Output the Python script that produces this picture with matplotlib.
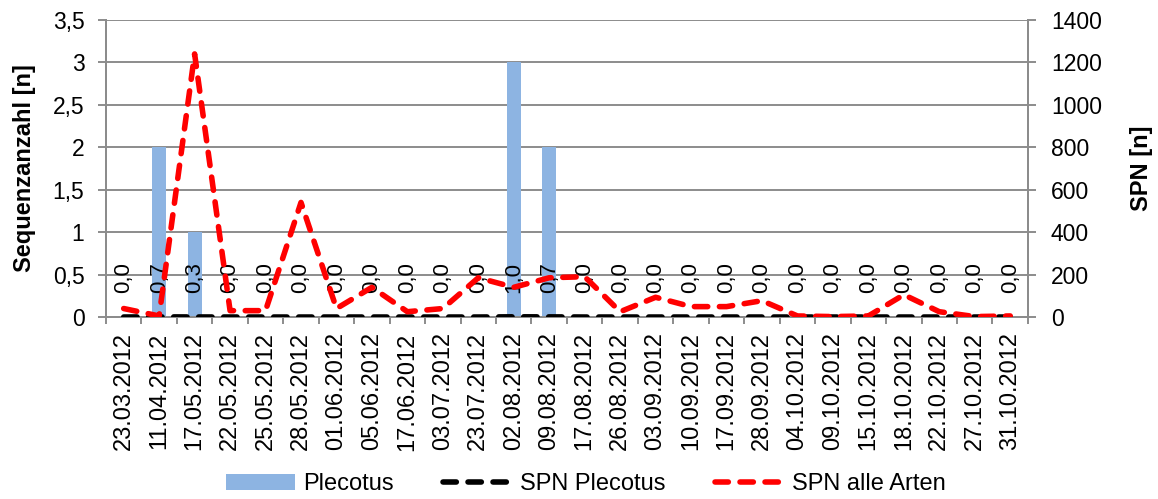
import numpy as np
import matplotlib
matplotlib.use("Agg")
from matplotlib import pyplot as plt
from matplotlib.ticker import FuncFormatter, FixedLocator

plt.rcParams['font.family'] = ['Liberation Sans', 'DejaVu Sans']

# dates of the recordings
dates = ["23.03.2012", "11.04.2012", "17.05.2012", "22.05.2012", "25.05.2012",
         "28.05.2012", "01.06.2012", "05.06.2012", "17.06.2012", "03.07.2012",
         "23.07.2012", "02.08.2012", "09.08.2012", "17.08.2012", "26.08.2012",
         "03.09.2012", "10.09.2012", "17.09.2012", "28.09.2012", "04.10.2012",
         "09.10.2012", "15.10.2012", "18.10.2012", "22.10.2012", "27.10.2012",
         "31.10.2012"]

# sequence counts Plecotus (left axis)
plecotus = [0, 2, 1, 0, 0, 0, 0, 0, 0, 0, 0, 3, 2, 0, 0, 0, 0, 0, 0, 0, 0, 0, 0, 0, 0, 0]

# SPN values (right axis)
spn_plecotus = [0.0, 0.7, 0.3, 0.0, 0.0, 0.0, 0.0, 0.0, 0.0, 0.0, 0.0, 1.0, 0.7,
                0.0, 0.0, 0.0, 0.0, 0.0, 0.0, 0.0, 0.0, 0.0, 0.0, 0.0, 0.0, 0.0]
spn_alle = [40, 5, 1240, 30, 30, 540, 40, 140, 25, 40, 185, 140, 185, 190, 25,
            93, 49, 49, 77, 5, 2, 5, 105, 25, 2, 5]

grid_col = "#8c8c8c"
x = np.arange(len(dates))

fig = plt.figure(figsize=(11.58, 4.99), dpi=100)
ax = fig.add_axes([0.0915, 0.3647, 0.8877 - 0.0915, 0.96 - 0.3647])
ax2 = ax.twinx()

# bars on left axis
ax.set_axisbelow(True)
ax.bar(x, plecotus, width=0.4, color="#8DB4E2", zorder=2, label="Plecotus")
ax.set_xlim(-0.5, len(dates) - 0.5)
ax.set_ylim(0, 3.5)
ax.set_yticks(np.arange(0, 3.51, 0.5))
ax.yaxis.set_major_formatter(FuncFormatter(lambda v, p: ("%g" % v).replace(".", ",")))
ax.grid(axis="y", color=grid_col, lw=1.4)

# lines on right axis
dash = (0, (2.4, 2.1))
l1, = ax2.plot(x, spn_plecotus, color="black", lw=4, ls=dash,
               dash_capstyle="round", label="SPN Plecotus", zorder=3)
l2, = ax2.plot(x, spn_alle, color="#ff0000", lw=4, ls=dash,
               dash_capstyle="round", label="SPN alle Arten", zorder=4)
ax2.set_ylim(0, 1400)
ax2.set_yticks(np.arange(0, 1401, 200))

# data labels of SPN Plecotus
for i, v in enumerate(spn_plecotus):
    ax.annotate(("%.1f" % v).replace(".", ","), xy=(i, 0), xytext=(0, 17),
                textcoords="offset points", rotation=90, ha="center", va="bottom",
                fontsize=16, zorder=5)

# x axis: labels at centres, tick marks between categories
ax.set_xticks(x)
ax.set_xticklabels(dates, rotation=90, fontsize=17)
ax.xaxis.set_minor_locator(FixedLocator(np.arange(-0.5, len(dates), 1.0)))
ax.tick_params(axis="x", which="major", length=0, pad=11)
ax.tick_params(axis="x", which="minor", length=5, width=1.4, color=grid_col)
ax.tick_params(axis="y", length=5.5, width=1.4, color=grid_col, labelsize=16.5, pad=10)
ax2.tick_params(axis="y", length=5.5, width=1.4, color=grid_col, labelsize=16.5, pad=11)

for a in (ax, ax2):
    a.spines["top"].set_visible(False)
    for s in ("left", "right", "bottom"):
        a.spines[s].set_color(grid_col)
        a.spines[s].set_linewidth(1.4)

ax.set_ylabel("Sequenzanzahl [n]", fontsize=17, fontweight="bold", labelpad=12)
ax2.set_ylabel("SPN [n]", fontsize=17, fontweight="bold", labelpad=20)

# legend below
bars_h, bars_l = ax.get_legend_handles_labels()
fig.legend(bars_h + [l1, l2], bars_l + ["SPN Plecotus", "SPN alle Arten"],
           loc="center", bbox_to_anchor=(0.506, 0.03), ncol=3, frameon=False,
           fontsize=17, handlelength=2.9, handletextpad=0.35, columnspacing=2.1)

fig.savefig("out.png", dpi=100)
